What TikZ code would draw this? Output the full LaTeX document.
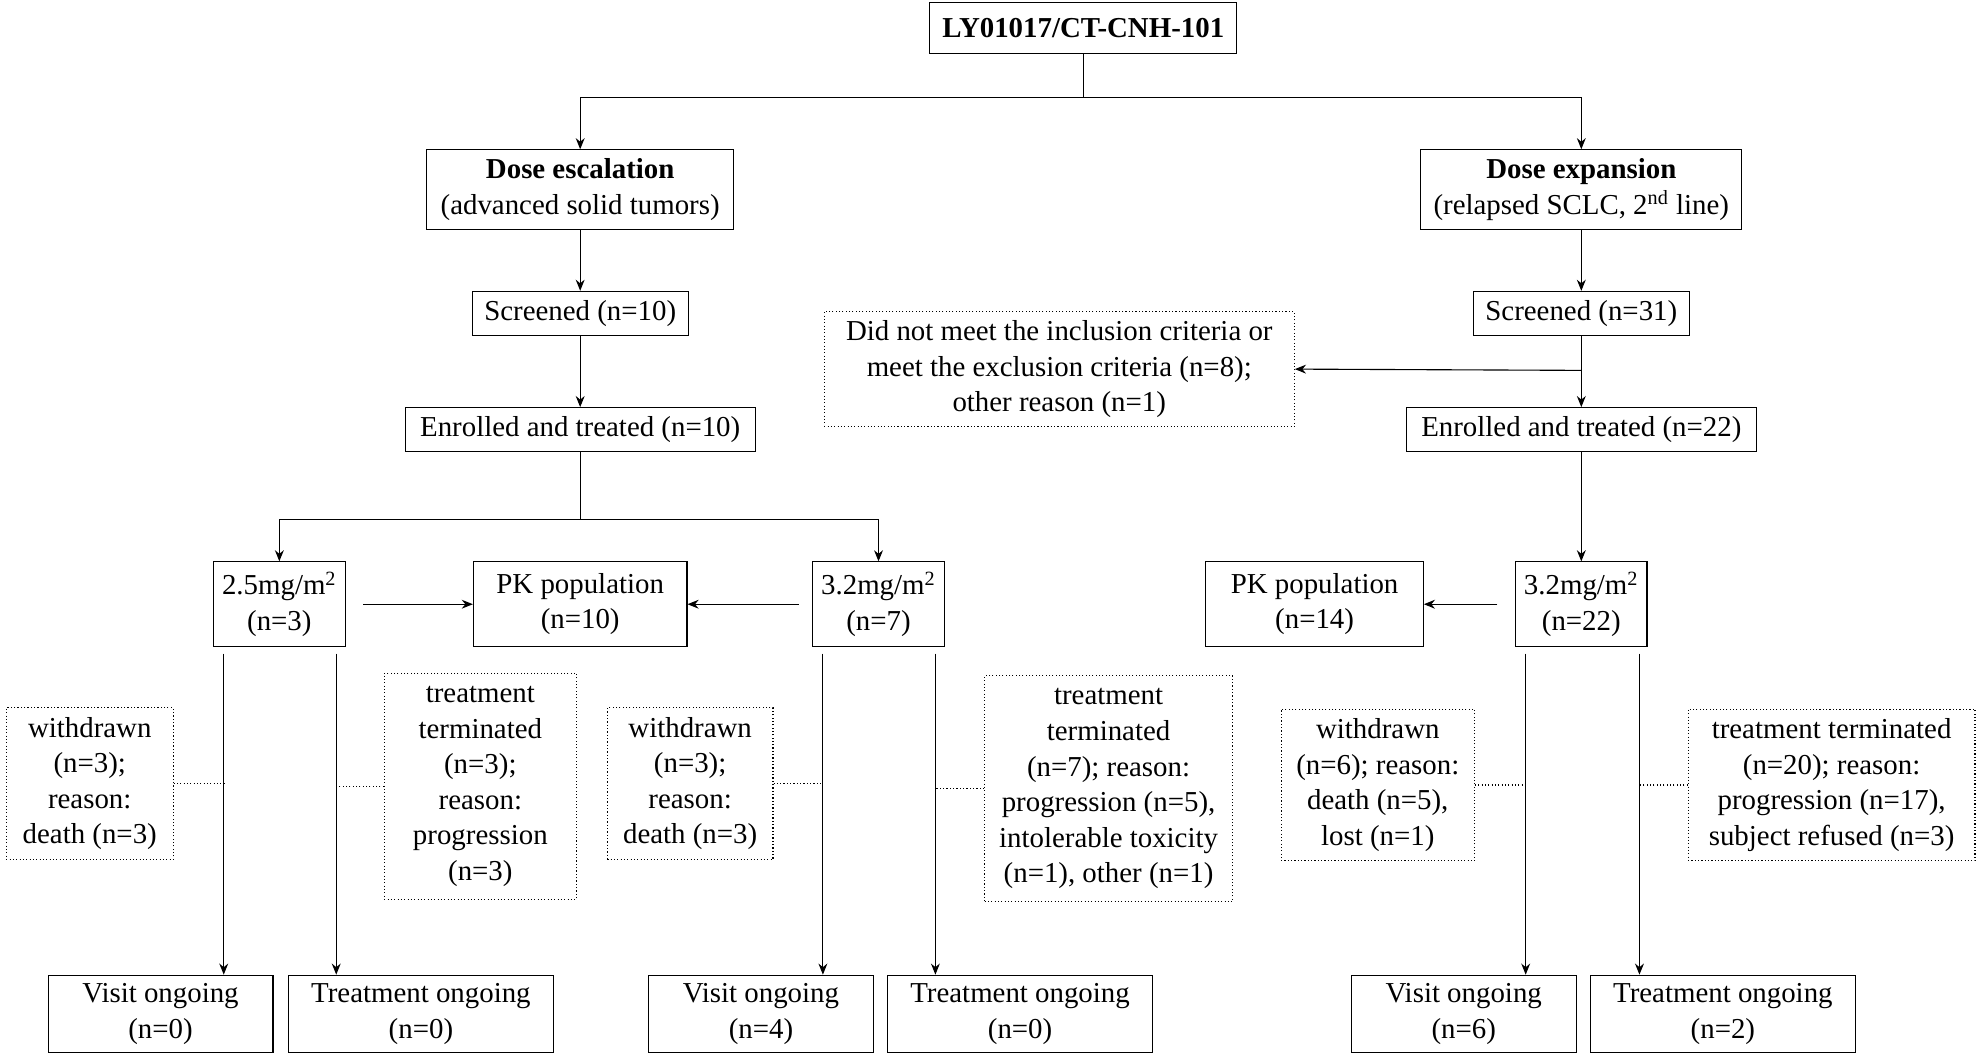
\documentclass[tikz,border=0pt]{standalone}
\usepackage{fontspec}
\setmainfont{Liberation Serif}
\usetikzlibrary{positioning,arrows.meta}
\tikzset{
  box/.style={draw,align=center,inner sep=0pt,font=\fontsize{13}{16}\selectfont},
  dbox/.style={box,densely dotted},
  arrow/.style={-{Stealth[length=5pt,width=4pt]}},
}
\begin{document}
\begin{tikzpicture}[x=0.02cm,y=-0.02cm,line width=0.5pt]
\useasboundingbox (0,0) rectangle (1568,840);
% top
\node[box,minimum width=4.86cm,minimum height=0.8cm,font=\fontsize{13}{16}\selectfont\bfseries] (top) at (857,22) {LY01017/CT-CNH-101};
\node[box,minimum width=4.86cm,minimum height=1.26cm] (esc) at (459,150) {\textbf{Dose escalation}\\(advanced solid tumors)};
\node[box,minimum width=5.08cm,minimum height=1.26cm] (exp) at (1251,150) {\textbf{Dose expansion}\\(relapsed SCLC, 2\textsuperscript{nd} line)};
\node[box,minimum width=3.42cm,minimum height=0.7cm] (scrL) at (459,248) {Screened (n=10)};
\node[box,minimum width=3.42cm,minimum height=0.7cm] (scrR) at (1251,248) {Screened (n=31)};
\node[dbox,minimum width=7.44cm,minimum height=1.82cm] (excl) at (838,292) {Did not meet the inclusion criteria or\\meet the exclusion criteria (n=8);\\other reason (n=1)};
\node[box,minimum width=5.54cm,minimum height=0.7cm] (enrL) at (459,340) {Enrolled and treated (n=10)};
\node[box,minimum width=5.54cm,minimum height=0.7cm] (enrR) at (1251,340) {Enrolled and treated (n=22)};
% doses
\node[box,minimum width=2.08cm,minimum height=1.34cm] (d25) at (221,478) {2.5mg/m\textsuperscript{2}\\(n=3)};
\node[box,minimum width=3.38cm,minimum height=1.34cm] (pkL) at (459,478) {PK population\\(n=10)};
\node[box,minimum width=2.08cm,minimum height=1.34cm] (d32L) at (695,478) {3.2mg/m\textsuperscript{2}\\(n=7)};
\node[box,minimum width=3.44cm,minimum height=1.34cm] (pkR) at (1040,478) {PK population\\(n=14)};
\node[box,minimum width=2.08cm,minimum height=1.34cm] (d32R) at (1251,478) {3.2mg/m\textsuperscript{2}\\(n=22)};
% dropouts
\node[dbox,minimum width=2.64cm,minimum height=2.4cm] (wd1) at (71,620) {withdrawn\\(n=3);\\reason:\\death (n=3)};
\node[dbox,minimum width=3.04cm,minimum height=3.58cm] (tt1) at (380,622) {treatment\\terminated\\(n=3);\\reason:\\progression\\(n=3)};
\node[dbox,minimum width=2.62cm,minimum height=2.4cm] (wd2) at (546,620) {withdrawn\\(n=3);\\reason:\\death (n=3)};
\node[dbox,minimum width=3.92cm,minimum height=3.58cm] (tt2) at (877,624) {treatment\\terminated\\(n=7); reason:\\progression (n=5),\\intolerable toxicity\\(n=1), other (n=1)};
\node[dbox,minimum width=3.06cm,minimum height=2.4cm] (wd3) at (1090,621) {withdrawn\\(n=6); reason:\\death (n=5),\\lost (n=1)};
\node[dbox,minimum width=4.54cm,minimum height=2.4cm] (tt3) at (1449,621) {treatment terminated\\(n=20); reason:\\progression (n=17),\\subject refused (n=3)};
% bottom
\node[box,minimum width=3.56cm,minimum height=1.22cm] (vis1) at (127,802) {Visit ongoing\\(n=0)};
\node[box,minimum width=4.2cm,minimum height=1.22cm] (trt1) at (333,802) {Treatment ongoing\\(n=0)};
\node[box,minimum width=3.56cm,minimum height=1.22cm] (vis2) at (602,802) {Visit ongoing\\(n=4)};
\node[box,minimum width=4.2cm,minimum height=1.22cm] (trt2) at (807,802) {Treatment ongoing\\(n=0)};
\node[box,minimum width=3.56cm,minimum height=1.22cm] (vis3) at (1158,802) {Visit ongoing\\(n=6)};
\node[box,minimum width=4.2cm,minimum height=1.22cm] (trt3) at (1363,802) {Treatment ongoing\\(n=2)};
% line tops
\coordinate (split) at (857,77);
\coordinate (splitL) at (459,411);
\coordinate (excJ) at (1251,293);
\coordinate (l1) at (177,517);
\coordinate (l2) at (266,517);
\coordinate (l3) at (651,517);
\coordinate (l4) at (740,517);
\coordinate (l5) at (1207,517);
\coordinate (l6) at (1297,517);
% connectors
\draw (top) -- (split);
\draw[arrow] (split) -| (esc);
\draw[arrow] (split) -| (exp);
\draw[arrow] (esc) -- (scrL);
\draw[arrow] (exp) -- (scrR);
\draw[arrow] (scrL) -- (enrL);
\draw[arrow] (scrR) -- (enrR);
\draw[arrow] (excJ) -- (excl.east);
\draw (enrL) -- (splitL);
\draw[arrow] (splitL) -| (d25);
\draw[arrow] (splitL) -| (d32L);
\draw[arrow] (enrR) -- (d32R);
\draw[arrow] ([xshift=8pt]d25.east) -- (pkL);
\draw[arrow] ([xshift=-6pt]d32L.west) -- (pkL);
\draw[arrow] ([xshift=-8pt]d32R.west) -- (pkR);
\foreach \l/\b in {l1/vis1,l2/trt1,l3/vis2,l4/trt2,l5/vis3,l6/trt3}
  \draw[arrow] (\l) -- (\l |- \b.north);
\foreach \d/\l in {wd1/l1,wd2/l3,wd3/l5}
  \draw[densely dotted] (\d.east) -- (\d.east -| \l);
\foreach \d/\l in {tt1/l2,tt2/l4,tt3/l6}
  \draw[densely dotted] (\d.west) -- (\d.west -| \l);
\end{tikzpicture}
\end{document}
